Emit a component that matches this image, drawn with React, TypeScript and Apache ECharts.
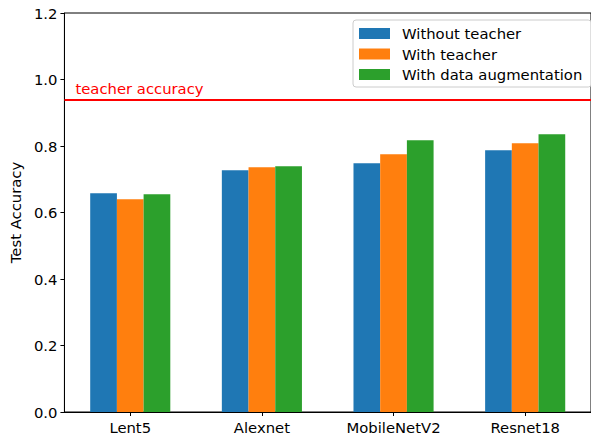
import React, { useEffect, useRef } from "react";
import * as echarts from "echarts";

const categories = ["Lent5", "Alexnet", "MobileNetV2", "Resnet18"];
const withoutTeacher = [0.658, 0.727, 0.748, 0.787];
const withTeacher = [0.64, 0.736, 0.775, 0.808];
const withAugmentation = [0.655, 0.739, 0.817, 0.835];
const teacherAccuracy = 0.945;
const seriesNames = ["Without teacher", "With teacher", "With data augmentation"];
const colors = ["#1f77b4", "#ff7f0e", "#2ca02c"];

const FONT = "DejaVu Sans";
const FS = 14.8;

export default function App() {
  const ref = useRef<HTMLDivElement>(null);
  useEffect(() => {
    if (!ref.current) return;
    const chart = echarts.init(ref.current, undefined, { renderer: "svg" });
    const values = [withoutTeacher, withTeacher, withAugmentation];
    chart.setOption({
      animation: false,
      backgroundColor: "#ffffff",
      textStyle: { fontFamily: FONT },
      grid: {
        left: 62.5,
        right: -1,
        top: 13,
        bottom: 26,
        show: true,
        borderColor: "#000",
        borderWidth: 1,
        backgroundColor: "transparent",
      },
      legend: {
        orient: "vertical",
        left: 353,
        top: 20,
        padding: [6, 9, 5, 6],
        itemGap: 5.5,
        itemWidth: 31,
        itemHeight: 11,
        icon: "rect",
        borderColor: "#cccccc",
        borderWidth: 1,
        borderRadius: 3,
        backgroundColor: "rgba(255,255,255,0.8)",
        textStyle: { fontSize: FS, color: "#000", fontFamily: FONT, padding: [0, 0, 0, 7] },
        data: seriesNames,
      },
      xAxis: {
        type: "category",
        data: categories,
        axisLine: { show: true, lineStyle: { color: "#000", width: 1 } },
        axisTick: { show: true, alignWithLabel: true, length: 4, lineStyle: { color: "#000" } },
        axisLabel: { fontSize: FS, color: "#000", fontFamily: FONT, margin: 8 },
        splitLine: { show: false },
      },
      yAxis: {
        type: "value",
        min: 0,
        max: 1.2,
        interval: 0.2,
        name: "Test Accuracy",
        nameLocation: "middle",
        nameGap: 40,
        nameTextStyle: { fontSize: FS, color: "#000", fontFamily: FONT },
        axisLine: { show: true, lineStyle: { color: "#000", width: 1 } },
        axisTick: { show: true, length: 4, lineStyle: { color: "#000" } },
        axisLabel: {
          fontSize: FS,
          color: "#000",
          fontFamily: FONT,
          margin: 7,
          formatter: (v: number) => v.toFixed(1),
        },
        splitLine: { show: false },
      },
      series: seriesNames.map((name, i) => ({
        name,
        type: "bar",
        data: values[i],
        barWidth: 26.7,
        barGap: "0%",
        itemStyle: { color: colors[i] },
        ...(i === 0
          ? {
              markLine: {
                silent: true,
                symbol: ["none", "none"],
                lineStyle: { color: "#ff0000", width: 2, type: "solid" },
                label: {
                  show: true,
                  position: "insideStartTop",
                  formatter: "teacher accuracy",
                  color: "#ff0000",
                  fontSize: FS,
                  fontFamily: FONT,
                  distance: [11, 3],
                },
                data: [{ yAxis: teacherAccuracy }],
              },
            }
          : {}),
      })),
    });
    return () => chart.dispose();
  }, []);
  return (
    <div
      ref={ref}
      style={{ position: "fixed", left: 0, top: 0, width: 591, height: 438 }}
    />
  );
}
